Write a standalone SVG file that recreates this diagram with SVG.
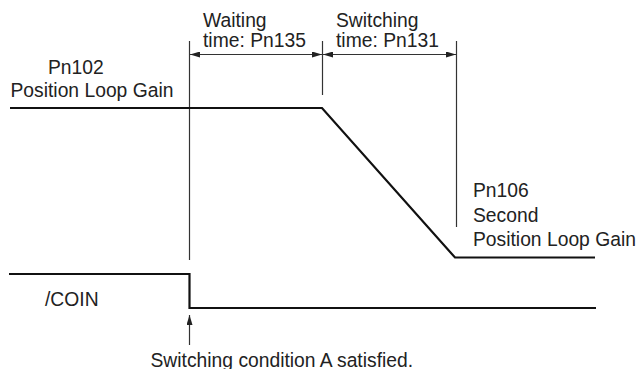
<svg xmlns="http://www.w3.org/2000/svg" width="640" height="369" viewBox="0 0 640 369">
<style>
text{font-family:"Liberation Sans",Arial,sans-serif;font-size:19.3px;fill:#222}
.sig{fill:none;stroke:#111;stroke-width:2.2}
.thin{fill:none;stroke:#333;stroke-width:1.2}
</style>
<defs>
<marker id="ah" viewBox="0 0 10 6" refX="10" refY="3" markerWidth="10" markerHeight="6" markerUnits="userSpaceOnUse" orient="auto-start-reverse">
<path d="M0,0 L10,3 L0,6 Z" fill="#222"/>
</marker>
</defs>
<rect width="640" height="369" fill="#fff"/>
<g id="connectors">
<line class="thin" x1="189.5" y1="41" x2="189.5" y2="260"/>
<line class="thin" x1="322.5" y1="41" x2="322.5" y2="95"/>
<line class="thin" x1="456.5" y1="41" x2="456.5" y2="227"/>
<line class="thin" x1="190" y1="54.5" x2="322" y2="54.5" marker-start="url(#ah)" marker-end="url(#ah)"/>
<line class="thin" x1="323" y1="54.5" x2="456" y2="54.5" marker-start="url(#ah)" marker-end="url(#ah)"/>
<line class="thin" x1="189.5" y1="345" x2="189.5" y2="315" marker-end="url(#ah)"/>
</g>
<g id="gain">
<polyline class="sig" points="10,108 322,108 455,257.5 595,257.5"/>
</g>
<g id="coin">
<polyline class="sig" points="9,274 189.5,274 189.5,308 596,308"/>
</g>
<g id="label-waiting">
<text x="203" y="27">Waiting</text>
<text x="203" y="47">time: Pn135</text>
</g>
<g id="label-switching">
<text x="336" y="27">Switching</text>
<text x="336" y="47">time: Pn131</text>
</g>
<g id="label-pn102">
<text x="48" y="73.5">Pn102</text>
<text x="10.5" y="97">Position Loop Gain</text>
</g>
<g id="label-pn106">
<text x="473" y="197">Pn106</text>
<text x="473" y="221.5">Second</text>
<text x="473" y="246">Position Loop Gain</text>
</g>
<g id="label-coin">
<text x="45" y="306">/COIN</text>
</g>
<g id="label-condition">
<text x="150.5" y="366.5">Switching condition A satisfied.</text>
</g>
</svg>
